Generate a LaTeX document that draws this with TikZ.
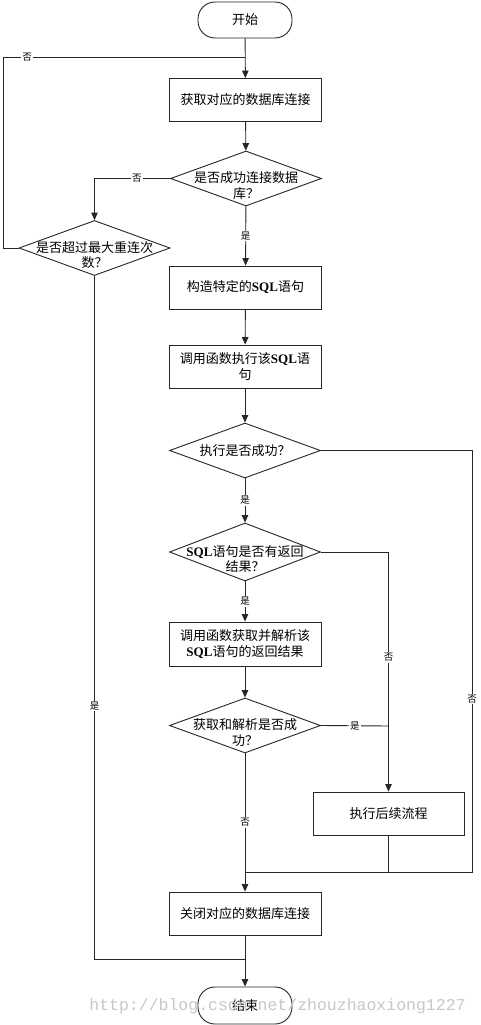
\documentclass[tikz,border=0pt]{standalone}
\usepackage{fontspec}
\setmainfont{Noto Sans CJK SC}
\newfontfamily\sqlfont{Liberation Serif}
\newfontfamily\wmfont{Liberation Mono}
\usetikzlibrary{shapes.geometric,arrows.meta}
\newcommand{\SQL}{{\sqlfont\bfseries SQL}}
\begin{document}
\begin{tikzpicture}[x=1pt,y=-1pt,
  every node/.style={font=\fontsize{13}{16.5}\selectfont},
  line/.style={draw=black!85,line width=0.9pt},
  arr/.style={line,-{Triangle[length=7.5pt,width=6.5pt]}},
  term/.style={draw=black!85,line width=0.9pt,rectangle,rounded corners=17pt,minimum width=94pt,minimum height=36pt,inner sep=0pt},
  proc/.style={draw=black!85,line width=0.9pt,rectangle,minimum width=152pt,minimum height=43pt,inner sep=0pt,align=center},
  dec/.style={draw=black!85,line width=0.9pt,diamond,minimum width=151pt,minimum height=55pt,inner sep=0pt},
  dtext/.style={align=center,anchor=north,inner sep=0pt,font=\fontsize{13}{15.5}\selectfont},
  lbl/.style={fill=white,inner sep=1pt,font=\fontsize{9.5}{10}\selectfont}
]
\useasboundingbox (0,0) rectangle (480,1025);
\fill[white] (0,0) rectangle (480,1025);

\node[term] (start) at (245,20) {开始};
\node[proc] (b1) at (245.5,100) {获取对应的数据库连接};
\node[dec] (d1) at (246,178.5) {};
\node[dtext] (t1) at ([yshift=7pt]d1.center) {是否成功连接数据\\库？};
\node[dec] (d2) at (94.5,248) {};
\node[dtext] (t2) at ([yshift=7pt]d2.center) {是否超过最大重连次\\数？};
\node[proc] (b2) at (245.5,287.5) {构造特定的\SQL 语句};
\node[proc] (b3) at (245,366.5) {调用函数执行该\SQL 语\\句};
\node[dec] (d3) at (245,450.5) {};
\node[anchor=center,inner sep=0pt] (t3) at (d3.center) {执行是否成功？};
\node[dec,minimum height=58pt] (d4) at (245,552) {};
\node[dtext] (t4) at ([yshift=7pt]d4.center) {\SQL 语句是否有返回\\结果？};
\node[proc,minimum height=44pt] (b4) at (245,644) {调用函数获取并解析该\\\SQL 语句的返回结果};
\node[dec] (d5) at (245,725.5) {};
\node[dtext] (t5) at ([yshift=7pt]d5.center) {获取和解析是否成\\功？};
\node[proc,minimum width=151pt] (b6) at (388.5,813.5) {执行后续流程};
\node[proc] (b5) at (245,913.5) {关闭对应的数据库连接};
\node[term,minimum height=37pt] (end) at (245,1005.5) {结束};

\coordinate (j0) at (245,57);
\coordinate (jl) at (3,57);
\coordinate (jr) at (472,872);
\coordinate (jm) at (245,872);
\coordinate (jb) at (245,959);
\coordinate (jc) at (389,726);

% main flow
\draw[arr] (start) -- (b1);
\draw[arr] (b1) -- (d1);
\draw[arr] (d1) -- node[lbl,pos=0.5] (l1) {是} (b2);
\draw[arr] (b2) -- (b3);
\draw[arr] (b3) -- (d3);
\draw[arr] (d3) -- node[lbl,pos=0.5] (l2) {是} (d4);
\draw[arr] (d4) -- node[lbl,pos=0.5] (l3) {是} (b4);
\draw[arr] (b4) -- (d5);
\draw[arr] (d5) -- node[lbl,pos=0.5] (l4) {否} (b5);
\draw[arr] (b5) -- (end);

% retry branch
\draw[arr] (d1.west) -| node[lbl,pos=0.22] (l5) {否} (d2.north);
\draw[line] (d2.west) -- (d2.west -| jl) -- (jl) -- node[lbl,pos=0.1] (l6) {否} (j0);
\draw[line] (d2.south) -- node[lbl,pos=0.63] (l7) {是} (d2.south |- jb) -- (jb);

% SQL result branches
\draw[arr] (d4.east) -| node[lbl,pos=0.72] (l8) {否} (b6.north);
\draw[line] (d5.east) -- node[lbl,pos=0.5] (l9) {是} (jc);
\draw[line] (d3.east) -- (d3.east -| jr) -- node[lbl,pos=0.59] (l10) {否} (jr) -- (jm);
\draw[line] (b6.south) -- (b6.south |- jm);

% watermark
\node[text=black!22,font={\wmfont\fontsize{16.5}{17}\selectfont},inner sep=0pt] (wm) at (277.5,1006) {http://blog.csdn.net/zhouzhaoxiong1227};
\end{tikzpicture}
\end{document}
